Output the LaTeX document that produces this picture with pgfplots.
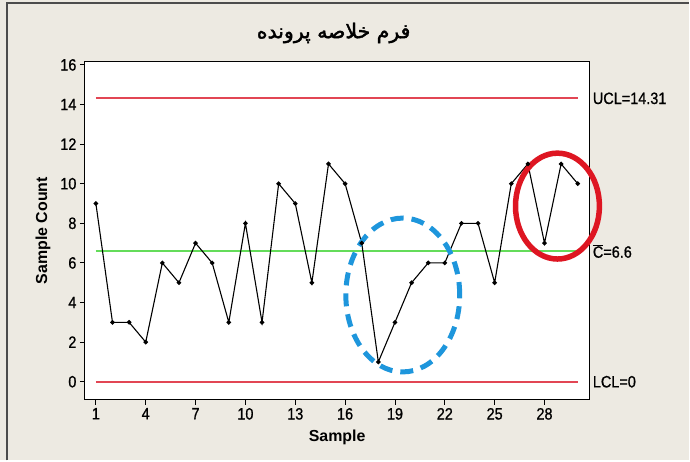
\documentclass[border=0pt]{standalone}
\usepackage{fontspec}
\setmainfont{Liberation Sans}
\newfontfamily\condfont[FakeStretch=0.88, FakeBold=0.8]{Liberation Sans}
\newfontfamily\arabicfont[Script=Arabic, FakeBold=2]{DejaVu Sans}
\TeXXeTstate=1
\usepackage{pgfplots}
\pgfplotsset{compat=1.18}
\definecolor{bg}{RGB}{237,234,226}
\definecolor{ctrlred}{RGB}{226,70,84}
\definecolor{ctrlgreen}{RGB}{100,220,90}
\definecolor{annblue}{RGB}{30,150,220}
\definecolor{annred}{RGB}{222,22,34}
\pgfplotstableread{
s c
1 9
2 3
3 3
4 2
5 6
6 5
7 7
8 6
9 3
10 8
11 3
12 10
13 9
14 5
15 11
16 10
17 7
18 1
19 3
20 5
21 6
22 6
23 8
24 8
25 5
26 10
27 11
28 7
29 11
30 10
}\datatable
\pgfplotstableread{
s ucl lcl cl
1 14.31 0 6.6
30 14.31 0 6.6
}\limtable
\begin{document}
\begin{tikzpicture}[x=1bp,y=1bp]
\fill[bg] (0,0) rectangle (690,461);
\draw[gray!60!black, line width=1.5bp] (7,0) -- (7,458) -- (690,458);
\node[font=\fontsize{20.5}{22}\selectfont\arabicfont] at (334,428) {\beginR فرم خلاصه پرونده\endR};
\begin{axis}[
  at={(85bp,61bp)}, anchor=south west,
  scale only axis, width=505bp, height=338bp,
  xmin=0.34, xmax=30.7, ymin=-0.9, ymax=16.15,
  axis background/.style={fill=white},
  clip=false,
  xtick={1,4,...,28}, ytick={0,2,...,16},
  tick align=outside, xtick pos=left, ytick pos=left,
  major tick length=5bp,
  tick style={black, line width=0.9bp},
  axis line style={black, line width=1.1bp},
  ticklabel style={font=\fontsize{16.5}{18}\selectfont\condfont},
  /pgf/number format/assume math mode=true,
  xlabel={Sample}, ylabel={Sample Count},
  label style={font=\fontsize{16}{18}\selectfont\bfseries},
  xlabel style={yshift=-3bp},
  ylabel style={yshift=3bp},
]
\addplot[draw=ctrlred, line width=2bp, no marks] table[x=s, y=ucl] {\limtable};
\addplot[draw=ctrlred, line width=2bp, no marks] table[x=s, y=lcl] {\limtable};
\addplot[draw=ctrlgreen, line width=2bp, no marks] table[x=s, y=cl] {\limtable};
\addplot[black, line width=1.1bp, mark=*, mark size=1.7bp] table[x=s, y=c] {\datatable};
\draw[annblue, line width=5bp, dash pattern=on 13bp off 8bp] (axis cs:19.47,4.38) ellipse [x radius=57bp, y radius=77bp];
\draw[annred, line width=5.5bp] (axis cs:28.78,8.87) ellipse [x radius=42bp, y radius=53bp];
\node[anchor=west, font=\fontsize{16.5}{18}\selectfont\condfont] at (axis cs:30.7,14.31) {UCL=14.31};
\node[anchor=west, font=\fontsize{16.5}{18}\selectfont\condfont] at (axis cs:30.7,6.6) {$\overline{\mbox{C}}$=6.6};
\node[anchor=west, font=\fontsize{16.5}{18}\selectfont\condfont] at (axis cs:30.7,0) {LCL=0};
\end{axis}
\end{tikzpicture}
\end{document}
